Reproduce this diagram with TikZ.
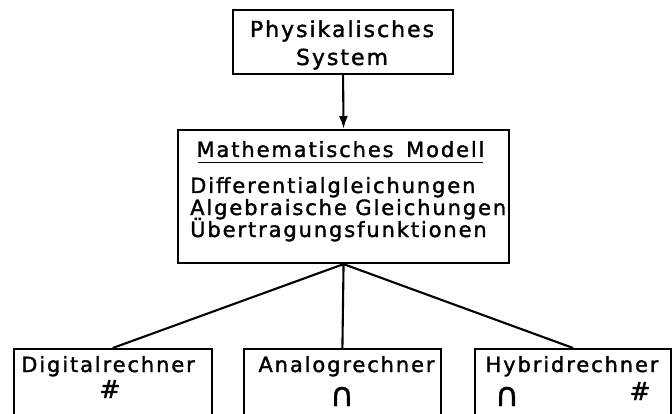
\documentclass[tikz,border=0pt]{standalone}
\usepackage{fontspec}
\usetikzlibrary{arrows.meta}
\setmainfont{DejaVu Sans}[LetterSpace=9,FakeBold=1.6]
\newfontfamily\symfont{DejaVu Sans}[FakeBold=1.0]
\begin{document}
\begin{tikzpicture}[x=1pt,y=-1pt,
  box/.style={draw,line width=2.1pt,inner sep=0pt,anchor=north west},
  conn/.style={line width=2.1pt},
  lbl/.style={inner sep=0pt,font=\fontsize{21}{21}\selectfont},
  hashlbl/.style={inner sep=0pt,font=\fontsize{25}{25}\selectfont},
  biglbl/.style={inner sep=0pt,font=\fontsize{22}{22}\selectfont},
  symlbl/.style={inner sep=0pt,font=\symfont\fontsize{33}{33}\selectfont}]
\useasboundingbox (0,0) rectangle (672,414);
\clip (0,0) rectangle (672,414);
% boxes
\node[box,minimum width=220pt,minimum height=64pt] (phys) at (232,9) {};
\node[box,minimum width=331pt,minimum height=133pt] (modell) at (177,129) {};
\node[box,minimum width=198pt,minimum height=70pt] (digital) at (12.7,348) {};
\node[box,minimum width=197.3pt,minimum height=70pt] (analog) at (242.7,348) {};
\node[box,minimum width=196pt,minimum height=70pt] (hybrid) at (474,348) {};
% texts
\node[biglbl,anchor=base] (t1) at (342,37) {Physikalisches};
\node[biglbl,anchor=base] (t2) at (342,65) {System};
\node[lbl,anchor=base] (m0) at (340.5,157) {Mathematisches\hspace{4pt} Modell};
\draw[line width=1.8pt] (198,162.5) -- (483,162.5);
\node[lbl,anchor=base west] (m1) at (190,193) {Differentialgleichungen};
\node[lbl,anchor=base west] (m2) at (190,215) {Algebraische Gleichungen};
\node[lbl,anchor=base west] (m3) at (190,237) {Übertragungsfunktionen};
\node[lbl,anchor=base] (d1) at (108,372) {Digitalrechner};
\node[hashlbl,anchor=base] (d2) at (110,398) {\#};
\node[lbl,anchor=base] (a1) at (346.5,372) {Analogrechner};
\node[symlbl,anchor=base] (a2) at (342,406) {∩};
\node[lbl,anchor=base] (h1) at (572,372) {Hybridrechner};
\node[symlbl,anchor=base] (h2) at (507,406) {∩};
\node[hashlbl,anchor=base] (h3) at (640,400) {\#};
% connectors
\draw[conn,-{Latex[length=13pt,width=9pt]}] (phys.south) -- (modell.north);
\draw[conn] (modell.south) -- (digital.north);
\draw[conn] (modell.south) -- (analog.north);
\draw[conn] (modell.south) -- (hybrid.north);
\end{tikzpicture}
\end{document}
